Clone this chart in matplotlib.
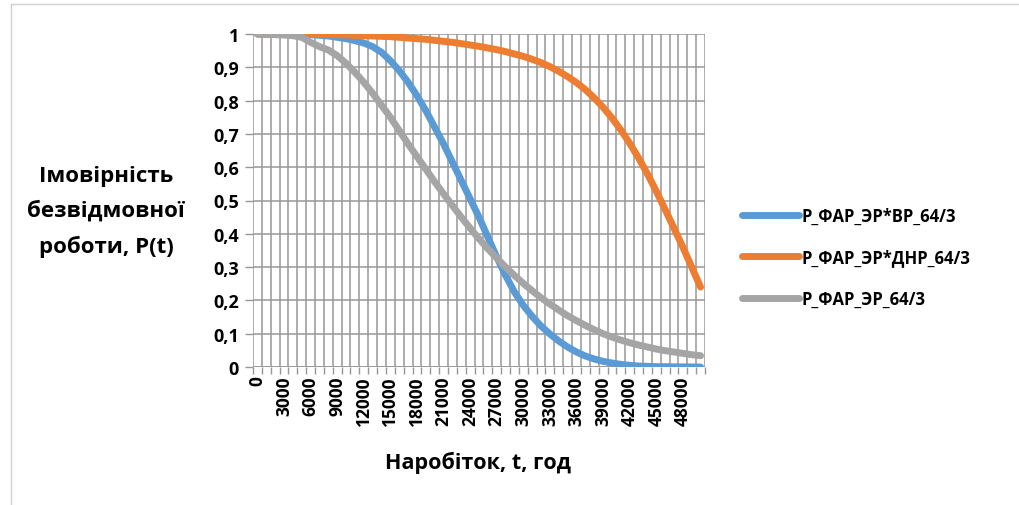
import matplotlib
matplotlib.use("Agg")
import matplotlib.pyplot as plt
from matplotlib.lines import Line2D
import numpy as np

hours = list(range(0, 50001, 1000))

p_vr = [1.0, 1.0, 1.0, 1.0, 0.999, 0.999, 0.998, 0.996, 0.994, 0.99,
        0.986, 0.98, 0.973, 0.962, 0.945, 0.92, 0.89, 0.855, 0.815, 0.77,
        0.72, 0.67, 0.615, 0.56, 0.505, 0.45, 0.39, 0.33, 0.275, 0.225,
        0.185, 0.152, 0.123, 0.099, 0.078, 0.06, 0.045, 0.033, 0.024, 0.017,
        0.012, 0.008, 0.005, 0.003, 0.002, 0.001, 0.001, 0.0005, 0.0003, 0.0002,
        0.0001]

p_dnr = [1.0, 1.0, 1.0, 1.0, 1.0, 1.0, 0.999, 0.999, 0.998, 0.998,
         0.997, 0.996, 0.995, 0.994, 0.993, 0.992, 0.99, 0.988, 0.986, 0.984,
         0.981, 0.978, 0.975, 0.971, 0.967, 0.963, 0.958, 0.953, 0.947, 0.94,
         0.933, 0.924, 0.914, 0.902, 0.888, 0.872, 0.854, 0.833, 0.808, 0.78,
         0.748, 0.712, 0.672, 0.628, 0.58, 0.528, 0.473, 0.417, 0.36, 0.3,
         0.24]

p_er = [1.0, 0.999, 0.998, 0.997, 0.995, 0.99, 0.975, 0.962, 0.952, 0.935,
        0.912, 0.885, 0.855, 0.822, 0.786, 0.75, 0.71, 0.67, 0.632, 0.594,
        0.556, 0.52, 0.485, 0.45, 0.417, 0.385, 0.355, 0.327, 0.3, 0.275,
        0.251, 0.229, 0.208, 0.189, 0.171, 0.154, 0.139, 0.125, 0.112, 0.1,
        0.09, 0.081, 0.073, 0.066, 0.06, 0.054, 0.049, 0.045, 0.041, 0.037,
        0.034]

series_names = ["P_ФАР_ЭР*ВР_64/3", "P_ФАР_ЭР*ДНР_64/3", "P_ФАР_ЭР_64/3"]
colors = ["#5B9BD5", "#ED7D31", "#A5A5A5"]
y_ticks = [0, 0.1, 0.2, 0.3, 0.4, 0.5, 0.6, 0.7, 0.8, 0.9, 1.0]
y_labels = ["0", "0,1", "0,2", "0,3", "0,4", "0,5", "0,6", "0,7", "0,8", "0,9", "1"]

plt.rcParams['font.family'] = ['Open Sans', 'DejaVu Sans']

fig = plt.figure(figsize=(10.19, 5.06), dpi=100)
W, H = 1019, 506
ax = fig.add_axes([253 / W, 1 - 368 / H, (705 - 253) / W, (368 - 35) / H])

idx = np.arange(len(hours))
for vals, name, c in zip([p_vr, p_dnr, p_er], series_names, colors):
    ax.plot(idx, vals, color=c, lw=5, label=name, solid_capstyle='round',
            solid_joinstyle='round', zorder=3)

ax.set_xlim(-0.5, len(hours) - 0.5)
ax.set_ylim(0, 1)

grid_c = "#979797"
major_pos = idx[::3]
ax.set_xticks(major_pos)
ax.set_xticklabels([str(hours[i]) for i in major_pos], rotation=90,
                   fontsize=12.5, fontweight='bold')
ax.set_xticks(np.arange(-0.5, len(hours) + 0.5, 1), minor=True)
ax.tick_params(axis='x', which='major', length=0, pad=6)
ax.tick_params(axis='x', which='minor', length=5, color=grid_c, width=1)
ax.grid(True, which='minor', axis='x', color=grid_c, lw=1.1, zorder=0)

ax.set_yticks(y_ticks)
ax.set_yticklabels(y_labels, fontsize=13, fontweight='bold')
ax.tick_params(axis='y', length=6, color=grid_c, width=1, pad=4)
ax.grid(True, which='major', axis='y', color=grid_c, lw=1.1, zorder=0)

for s in ax.spines.values():
    s.set_visible(False)
ax.axhline(0, color=grid_c, lw=1.1, zorder=1)

fig.text(478 / W, 1 - 463 / H, "Наробіток, t, год", ha='center', va='center',
         fontsize=15.5, fontweight='bold')
fig.text(106 / W, 1 - 212 / H, "Імовірність\nбезвідмовної\nроботи, P(t)",
         ha='center', va='center', multialignment='center',
         fontsize=16, fontweight='bold', linespacing=1.78)

handles = [Line2D([0], [0], color=c, lw=5, solid_capstyle='round') for c in colors]
leg = fig.legend(handles, series_names, loc='center left',
                 bbox_to_anchor=(727 / W, 1 - 258 / H), frameon=False,
                 prop={'size': 12, 'weight': 'bold'}, handlelength=3.4,
                 handletextpad=0.15, labelspacing=1.4)

# outer frame (top and left edges visible)
fig.add_artist(Line2D([11 / W, 1], [1 - 5 / H, 1 - 5 / H], color="#D0D0D0", lw=1,
                      transform=fig.transFigure))
fig.add_artist(Line2D([11 / W, 11 / W], [0, 1 - 5 / H], color="#D0D0D0", lw=1,
                      transform=fig.transFigure))

fig.savefig("out.png", dpi=100)
